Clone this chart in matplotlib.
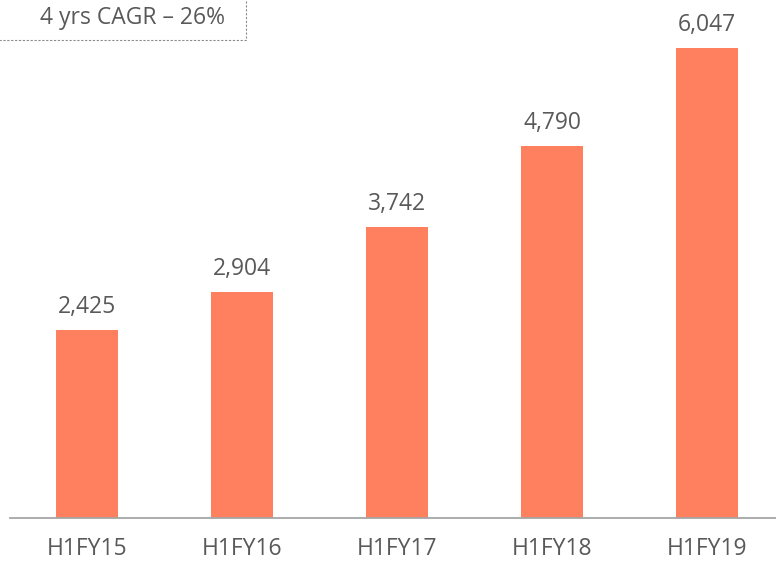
import matplotlib
matplotlib.use("Agg")
import matplotlib.pyplot as plt
from matplotlib.patches import Rectangle

categories = ["H1FY15", "H1FY16", "H1FY17", "H1FY18", "H1FY19"]
values = [2425, 2904, 3742, 4790, 6047]
value_labels = ["2,425", "2,904", "3,742", "4,790", "6,047"]
note = "4 yrs CAGR \u2013 26%"

W, H = 776, 563
fig = plt.figure(figsize=(W/100, H/100), dpi=100)
plt.rcParams['font.family'] = ['Open Sans', 'DejaVu Sans']

left_px, base_px = 9.5, 518
ax = fig.add_axes([left_px/W, (H-base_px)/H, (W-left_px)/W, base_px/H])
slot = 155
ax.set_xlim(-0.5, -0.5 + (W-left_px)/slot)
ax.set_ylim(0, 6047 * 518/470)

bar_color = "#FF805F"
text_color = "#595959"
fs = 16.5
ax.bar(range(len(values)), values, width=62/slot, color=bar_color)
for i, (v, lab) in enumerate(zip(values, value_labels)):
    ax.annotate(lab, (i, v), xytext=(0, 11), textcoords="offset pixels",
                ha="center", va="bottom", fontsize=fs, color=text_color)

for s in ["top", "right", "left"]:
    ax.spines[s].set_visible(False)
ax.spines["bottom"].set_color("#A6A6A6")
ax.spines["bottom"].set_linewidth(1.3)
ax.set_yticks([])
ax.set_xticks(range(len(categories)))
ax.set_xticklabels(categories, fontsize=fs, color=text_color)
ax.tick_params(axis="x", length=0, pad=14)

# note box
box = Rectangle((-10/W, (H-40)/H), 256/W, 60/H, transform=fig.transFigure,
                fill=False, edgecolor="#8C8C8C", linestyle=(0, (2, 1.5)), linewidth=0.8,
                clip_on=False)
fig.patches.append(box)
fig.text(133/W, (H-18)/H, note, ha="center", va="center", fontsize=fs, color=text_color)

fig.savefig("out.png", dpi=100)
